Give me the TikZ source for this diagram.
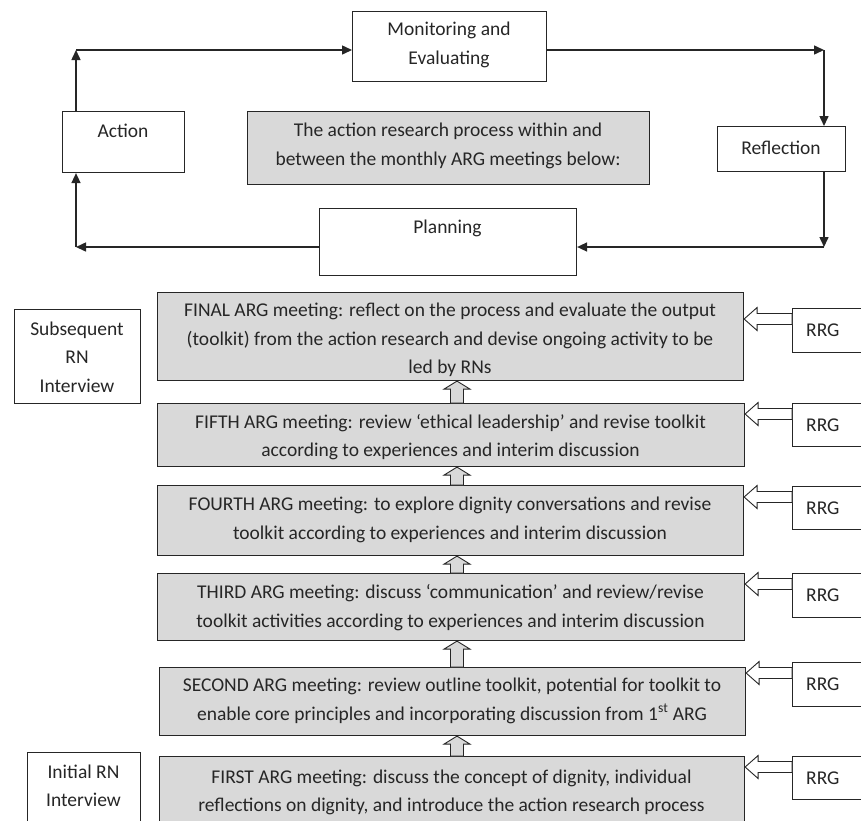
\documentclass[tikz,border=0pt]{standalone}
\usepackage{fontspec}
\setmainfont{Carlito}
\usetikzlibrary{arrows.meta,calc}
\definecolor{boxgray}{HTML}{D9D9D9}
\definecolor{ink}{HTML}{262626}
\tikzset{
  frame/.style={draw=ink, line width=1.1pt, inner sep=0pt, anchor=north west, fill=white},
  grayframe/.style={frame, fill=boxgray},
  txt/.style={inner sep=0pt, align=center, text=ink, font=\fontsize{19.5}{28.5}\selectfont},
  flow/.style={draw=ink, line width=1.5pt, -{Triangle[length=10pt,width=9pt]}},
  plain/.style={draw=ink, line width=1.5pt},
  blockh/.style={draw=ink, line width=0.9pt, fill=white, line join=miter},
  blockv/.style={draw=ink, line width=0.9pt, fill=boxgray, line join=miter},
}
\newcommand{\rrgarrow}[2]{%
  \path (#1.north west) ++(0,11) coordinate (tmpS);
  \coordinate (tmpT) at (#2.east |- tmpS);
  \draw[blockh] (tmpT) -- ++(13,-11.5) -- ++(0,6) -- ($(tmpS)+(0,-5.5)$)
     -- ($(tmpS)+(0,5.5)$) -- ($(tmpT)+(13,5.5)$) -- ($(tmpT)+(13,11.5)$) -- cycle;
}
\newcommand{\uparr}[2]{%
  \coordinate (tmpB) at (#1.north -| axis);
  \coordinate (tmpU) at (#2.south -| axis);
  \draw[blockv] (tmpU) -- ++(13,8) -- ++(-6.5,0) -- ($(tmpB)+(6.5,0)$)
     -- ($(tmpB)+(-6.5,0)$) -- ($(tmpU)+(-6.5,8)$) -- ($(tmpU)+(-13,8)$) -- cycle;
}
\begin{document}
\begin{tikzpicture}[x=1pt,y=-1pt]
\useasboundingbox (0,0) rectangle (861,820);
\clip (0,0) rectangle (861,820);
\fill[white] (0,0) rectangle (861,820);

% ---- top cycle ----
\node[frame, minimum width=194pt, minimum height=70pt] (mon) at (352,11) {};
\node[txt] (mont) at (449,45) {Monitoring and\\Evaluating};
\node[frame, minimum width=122pt, minimum height=61pt] (act) at (62,111) {};
\node[txt] (actt) at (123,131) {Action};
\node[grayframe, minimum width=402pt, minimum height=73pt] (intro) at (247,111) {};
\node[txt] (introt) at (448,146) {The action research process within and\\between the monthly ARG meetings below:};
\node[frame, minimum width=128pt, minimum height=45pt] (refl) at (717,126) {};
\node[txt] (reflt) at (781,148) {Reflection};
\node[frame, minimum width=257pt, minimum height=67pt] (plan) at (319,208) {};
\node[txt] (plant) at (447.5,228) {Planning};

\coordinate (tl) at (76,50);
\coordinate (tr) at (824,50);
\coordinate (bl) at (76,247);
\coordinate (br) at (824,247);

\draw[flow] (tl |- act.north) -- (tl);
\draw[flow] (tl) -- (mon.west |- tl);
\draw[flow] (mon.east |- tr) -- (tr);
\draw[flow] (tr) -- (tr |- refl.north);
\draw[flow] (br |- refl.south) -- (br);
\draw[flow] (br) -- (plan.east |- br);
\draw[flow] (plan.west |- bl) -- (bl);
\draw[flow] (bl) -- (bl |- act.south);

% ---- meetings ----
\node[frame, minimum width=126pt, minimum height=94pt] (subs) at (14,309) {};
\node[txt] (subst) at (77,357) {Subsequent\\RN\\Interview};
\node[frame, minimum width=113pt, minimum height=90pt] (init) at (27,752) {};
\node[txt] (initt) at (83.5,786) {Initial RN\\Interview};

\node[grayframe, minimum width=586pt, minimum height=88pt] (final) at (157,292) {};
\node[txt] (finalt) at (450,340) {FINAL ARG meeting: reflect on the process and evaluate the output\\(toolkit) from the action research and devise ongoing activity to be\\led by RNs};
\node[grayframe, minimum width=587pt, minimum height=63pt] (fifth) at (157,403) {};
\node[txt] (fiftht) at (450.5,437) {FIFTH ARG meeting: review ‘ethical leadership’ and revise toolkit\\according to experiences and interim discussion};
\node[grayframe, minimum width=586pt, minimum height=70pt] (fourth) at (157,485) {};
\node[txt] (fourtht) at (450,520) {FOURTH ARG meeting: to explore dignity conversations and revise\\toolkit according to experiences and interim discussion};
\node[grayframe, minimum width=587pt, minimum height=67pt] (third) at (157,573) {};
\node[txt] (thirdt) at (450.5,607.5) {THIRD ARG meeting: discuss ‘communication’ and review/revise\\toolkit activities according to experiences and interim discussion};
\node[grayframe, minimum width=586pt, minimum height=68pt] (second) at (159,667) {};
\node[txt] (secondt) at (452,701) {SECOND ARG meeting: review outline toolkit, potential for toolkit to\\enable core principles and incorporating discussion from 1\textsuperscript{st} ARG};
\node[grayframe, minimum width=585pt, minimum height=90pt] (first) at (159,756) {};
\node[txt] (firstt) at (451.5,792.5) {FIRST ARG meeting: discuss the concept of dignity, individual\\reflections on dignity, and introduce the action research process};

% RRG boxes
\node[frame, minimum width=90pt, minimum height=44pt] (r6) at (792,308) {};
\node[frame, minimum width=90pt, minimum height=43pt] (r5) at (792,403) {};
\node[frame, minimum width=90pt, minimum height=43pt] (r4) at (792,486) {};
\node[frame, minimum width=90pt, minimum height=44pt] (r3) at (792,573) {};
\node[frame, minimum width=90pt, minimum height=44pt] (r2) at (792,662) {};
\node[frame, minimum width=90pt, minimum height=43pt] (r1) at (792,756) {};
\foreach \r in {r1,r2,r3,r4,r5,r6}{
  \node[txt, anchor=west] (\r t) at ($(\r.north west)+(14,22)$) {RRG};
}

\rrgarrow{r6}{final}
\rrgarrow{r5}{fifth}
\rrgarrow{r4}{fourth}
\rrgarrow{r3}{third}
\rrgarrow{r2}{second}
\rrgarrow{r1}{first}

\coordinate (axis) at (457,0);
\uparr{fifth}{final}
\uparr{fourth}{fifth}
\uparr{third}{fourth}
\uparr{second}{third}
\uparr{first}{second}
\end{tikzpicture}
\end{document}
